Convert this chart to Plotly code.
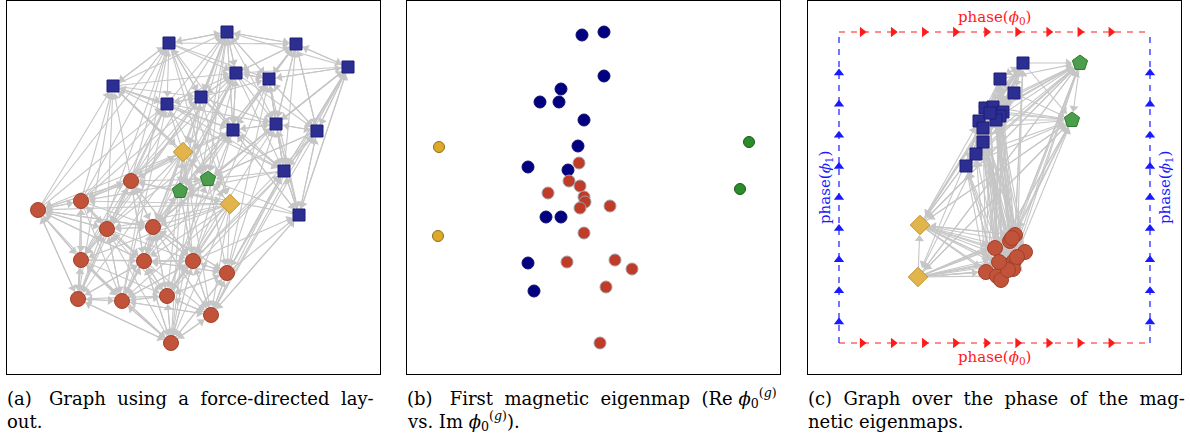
import math
import plotly.graph_objects as go

W, H = 1190, 440

# ---------------- data ----------------
# node groups: 14 blue, 2 yellow, 2 green, 14 red
groups = ['blue'] * 14 + ['yellow'] * 2 + ['green'] * 2 + ['red'] * 14

# panel (a): force-directed layout (frame units, y downward)
a_x = [220, 162, 289, 341, 229, 262, 106, 194, 160, 226, 269, 310, 277, 292,
       176, 223,
       201, 173,
       124, 74, 31, 100, 146, 74, 137, 186, 220, 71, 115, 160, 204, 164]
a_y = [31, 42, 43, 66, 72, 78, 85, 96, 103, 129, 123, 130, 170, 214,
       151, 203,
       178, 190,
       180, 200, 209, 228, 226, 259, 260, 260, 272, 298, 300, 295, 314, 342]

# panel (b): first magnetic eigenmap (Re vs Im), frame units
b_x = [175, 197, 197, 154, 133, 152, 177, 171, 121, 161, 139, 154, 121, 127,
       32, 31,
       342, 333,
       172, 162, 173, 141, 177, 178, 173, 203, 177, 160, 208, 225, 199, 193]
b_y = [34, 31, 75, 88, 101, 101, 119, 145, 166, 169, 216, 216, 262, 290,
       146, 235,
       141, 188,
       162, 180, 185, 192, 196, 201, 207, 205, 232, 261, 259, 268, 286, 342]

# panel (c): phase of the magnetic eigenmaps, frame units
c_x = [215, 192, 206, 177, 185, 195, 192, 188, 171, 175, 175, 168, 158, 182,
       112, 110,
       272, 264,
       207, 202, 187, 217, 206, 195, 205, 178, 189, 193, 204, 200, 191, 209]
c_y = [62, 78, 92, 107, 106, 111, 115, 119, 120, 127, 141, 153, 165, 112,
       224, 276,
       62, 119,
       234, 240, 247, 251, 260, 264, 268, 271, 275, 279, 237, 269, 261, 256]

# directed edges: source -> targets
adjacency = {
    0: [1, 2, 4, 5, 16, 17, 9, 7, 10, 14],
    1: [0, 6, 7, 8, 16, 4, 2, 9, 5, 15],
    2: [0, 3, 5, 11, 17, 10, 4, 9, 12],
    3: [2, 5, 11, 16, 13, 0, 10, 12, 4],
    4: [0, 5, 7, 9, 16, 17, 2, 10, 11, 12, 14],
    5: [2, 4, 10, 12, 17, 0, 3, 9, 11, 13],
    6: [1, 7, 8, 16, 0, 4, 9, 12, 14],
    7: [4, 8, 9, 17, 5, 0, 1, 10, 12, 15],
    8: [6, 7, 9, 16, 0, 4, 12, 10],
    9: [4, 10, 12, 17, 0, 2, 5, 13, 14, 25],
    10: [5, 11, 12, 16, 2, 3, 9, 13, 22],
    11: [3, 10, 13, 17, 2, 5, 12, 16],
    12: [9, 10, 13, 16, 5, 11, 3, 17, 26],
    13: [11, 12, 17, 3, 9, 10, 16, 30],
    14: [18, 19, 22, 25, 27, 30, 6, 8, 20, 21, 24, 29, 31, 17, 16],
    15: [14, 18, 21, 23, 26, 28, 31, 29, 19, 20, 22, 24, 25, 30, 16, 17],
    16: [14, 15, 17, 19, 22, 26],
    17: [14, 15, 18, 25, 28],
    18: [19, 20, 21, 22, 24, 1, 6, 16, 23, 25, 0, 4, 7, 9, 14],
    19: [20, 21, 23, 24, 6, 8, 18, 22, 27, 28, 1, 7],
    20: [19, 21, 23, 27, 6, 18, 22, 24, 28, 1, 8],
    21: [20, 22, 23, 24, 28, 8, 7, 18, 19, 25, 27, 29, 6, 9],
    22: [20, 24, 25, 29, 4, 9, 17, 18, 21, 26, 28, 30, 0, 10],
    23: [24, 27, 28, 29, 7, 19, 20, 21, 25, 31, 8],
    24: [20, 25, 28, 29, 31, 10, 4, 18, 21, 22, 26, 30, 27, 9],
    25: [26, 29, 30, 12, 11, 17, 18, 22, 24, 28, 31, 5, 13],
    26: [25, 30, 12, 13, 5, 22, 24, 29, 31, 10, 3],
    27: [28, 31, 23, 6, 20, 21, 24, 29, 1, 8],
    28: [29, 31, 27, 24, 1, 21, 23, 25, 30, 8, 4],
    29: [30, 31, 25, 9, 16, 22, 24, 26, 28, 12, 10],
    30: [31, 26, 29, 13, 3, 22, 25, 28, 12, 11],
    31: [27, 28, 29, 30, 24, 0, 25, 26, 23, 21, 7],
}

SP = '&nbsp; '
captions = [
    [SP.join(["(a)&nbsp;", "Graph", "using", "a", "force-directed", "lay-"]),
     "out."],
    [SP.join(["(b)&nbsp;", "First", "magnetic", "eigenmap",
              "(Re <i>ϕ</i><sub>0</sub><sup>(<i>g</i>)</sup>"]),
     "vs. Im <i>ϕ</i><sub>0</sub><sup>(<i>g</i>)</sup>)."],
    ["(c)&nbsp; " + SP.join(["Graph", "over", "the", "phase", "of", "the",
                             "mag-"]),
     "netic eigenmaps."],
]

# ---------------- styles ----------------
graph_style = {
    'blue': dict(symbol='square', size=12, color='#2c2e92', line='#1c1c78', r=7),
    'yellow': dict(symbol='diamond', size=15, color='#e2b54c', line='#c49428', r=10),
    'green': dict(symbol='pentagon', size=16, color='#4b9e4b', line='#2e7a2e', r=8),
    'red': dict(symbol='circle', size=15, color='#c1533a', line='#a4402c', r=8),
}
eig_style = {
    'blue': dict(color='#000080', line='#10106a', size=12),
    'yellow': dict(color='#e0a82a', line='#8a6d1e', size=11),
    'green': dict(color='#2a8c2a', line='#1a5a1a', size=11),
    'red': dict(color='#c03c28', line='#a0a0a0', size=12),
}
EDGE = '#c6c6c6'
FRAMES = [(7, 380), (407, 780), (808, 1181)]
TOP, BOT = 1, 374
FRAME_SIZE = 373
SERIF = 'DejaVu Serif, Liberation Serif, serif'

fig = go.Figure()

axis_common = dict(showgrid=False, zeroline=False, showticklabels=False,
                   ticks='', showline=True, mirror=True, linecolor='black',
                   linewidth=1)
for i, (x0, x1) in enumerate(FRAMES):
    sfx = '' if i == 0 else str(i + 1)
    fig.update_layout(**{
        'xaxis' + sfx: dict(domain=[x0 / W, x1 / W], range=[0, FRAME_SIZE],
                            anchor='y' + sfx, **axis_common),
        'yaxis' + sfx: dict(domain=[1 - BOT / H, 1 - TOP / H],
                            range=[FRAME_SIZE, 0], anchor='x' + sfx,
                            **axis_common),
    })


def draw_graph(xs, ys, xa, ya):
    lx, ly, hx, hy, ang = [], [], [], [], []
    s_head = 8
    for src, tgts in adjacency.items():
        for t in dict.fromkeys(tgts):
            if t == src:
                continue
            x0, y0, x1, y1 = xs[src], ys[src], xs[t], ys[t]
            dx, dy = x1 - x0, y1 - y0
            d = math.hypot(dx, dy)
            if d == 0:
                continue
            ux, uy = dx / d, dy / d
            rt = graph_style[groups[t]]['r']
            tipx, tipy = x1 - ux * rt, y1 - uy * rt
            lx += [x0, tipx - ux * 3, None]
            ly += [y0, tipy - uy * 3, None]
            hx.append(tipx - ux * s_head / 2)
            hy.append(tipy - uy * s_head / 2)
            ang.append(math.degrees(math.atan2(dx, -dy)))
    fig.add_trace(go.Scatter(x=lx, y=ly, mode='lines', xaxis=xa, yaxis=ya,
                             line=dict(color=EDGE, width=1.1), hoverinfo='skip',
                             showlegend=False))
    fig.add_trace(go.Scatter(x=hx, y=hy, mode='markers', xaxis=xa, yaxis=ya,
                             marker=dict(symbol='triangle-up', size=s_head,
                                         color=EDGE, angle=ang,
                                         line=dict(width=0)),
                             hoverinfo='skip', showlegend=False))
    for g in ['blue', 'yellow', 'green', 'red']:
        st = graph_style[g]
        idx = [k for k, gg in enumerate(groups) if gg == g]
        fig.add_trace(go.Scatter(
            x=[xs[k] for k in idx], y=[ys[k] for k in idx], mode='markers',
            xaxis=xa, yaxis=ya, showlegend=False, hoverinfo='skip',
            marker=dict(symbol=st['symbol'], size=st['size'], color=st['color'],
                        line=dict(color=st['line'], width=1), opacity=1)))


# panel (a)
draw_graph(a_x, a_y, 'x', 'y')

# panel (b)
for g in ['blue', 'yellow', 'green', 'red']:
    st = eig_style[g]
    idx = [k for k, gg in enumerate(groups) if gg == g]
    fig.add_trace(go.Scatter(
        x=[b_x[k] for k in idx], y=[b_y[k] for k in idx], mode='markers',
        xaxis='x2', yaxis='y2', showlegend=False, hoverinfo='skip',
        marker=dict(symbol='circle', size=st['size'], color=st['color'],
                    line=dict(color=st['line'], width=1))))

# panel (c): phase box
BOX = (31, 342)
RED, BLUE = '#ff1a1a', '#1a1aff'
b0, b1 = BOX
for yy in (b0, b1):
    fig.add_trace(go.Scatter(x=[b0, b1], y=[yy, yy], mode='lines', xaxis='x3',
                             yaxis='y3', showlegend=False, hoverinfo='skip',
                             line=dict(color=RED, width=1.2, dash='6px,6px')))
for xx in (b0, b1):
    fig.add_trace(go.Scatter(x=[xx, xx], y=[b1, b0], mode='lines', xaxis='x3',
                             yaxis='y3', showlegend=False, hoverinfo='skip',
                             line=dict(color=BLUE, width=1.2, dash='6px,6px')))
L = b1 - b0
marks = [k / 10 for k in range(1, 10)]
rx = [b0 + L * m - 8 for m in marks]
fig.add_trace(go.Scatter(x=rx + rx, y=[b0] * 9 + [b1] * 9, mode='markers',
                         xaxis='x3', yaxis='y3', showlegend=False,
                         hoverinfo='skip',
                         marker=dict(symbol='triangle-right', size=9, color=RED)))
ry = [b1 - L * m + 10 for m in marks]
fig.add_trace(go.Scatter(x=[b0] * 9 + [b1] * 9, y=ry + ry, mode='markers',
                         xaxis='x3', yaxis='y3', showlegend=False,
                         hoverinfo='skip',
                         marker=dict(symbol='triangle-up', size=9, color=BLUE)))

draw_graph(c_x, c_y, 'x3', 'y3')

lab_font = dict(family=SERIF, size=15)
ph0 = 'phase(<i>ϕ</i><sub>0</sub>)'
ph1 = 'phase(<i>ϕ</i><sub>1</sub>)'
for yy in (16, 356):
    fig.add_annotation(x=(b0 + b1) / 2, y=yy, xref='x3', yref='y3', text=ph0,
                       showarrow=False, font=dict(color=RED, **lab_font))
for xx in (17, 357):
    fig.add_annotation(x=xx, y=187, xref='x3', yref='y3', text=ph1,
                       showarrow=False, textangle=-90,
                       font=dict(color=BLUE, **lab_font))

# captions
cap_font = dict(family=SERIF, size=18, color='black')
for i, (x0, x1) in enumerate(FRAMES):
    for j, line in enumerate(captions[i]):
        fig.add_annotation(x=(x0 - 2) / W, y=1 - (398 + 23 * j) / H,
                           xref='paper', yref='paper', text=line,
                           showarrow=False, xanchor='left', yanchor='middle',
                           font=cap_font)

fig.update_layout(width=W, height=H, margin=dict(l=0, r=0, t=0, b=0),
                  paper_bgcolor='white', plot_bgcolor='white',
                  showlegend=False, hovermode=False)

fig.write_html('out.html', config={'displayModeBar': False, 'staticPlot': True},
               post_script="document.body.style.margin='0px';")
